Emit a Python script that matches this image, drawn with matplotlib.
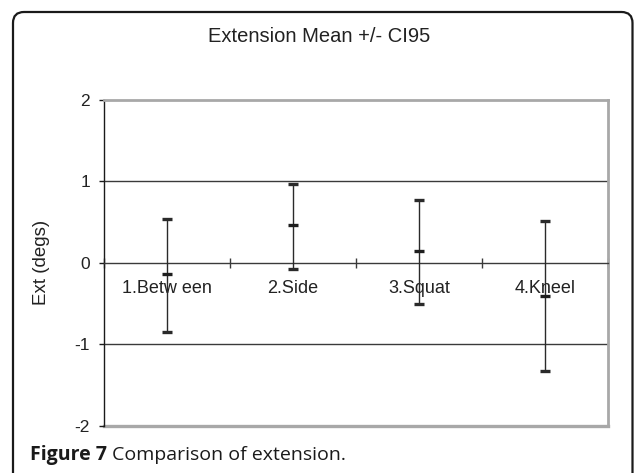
import matplotlib
matplotlib.use('Agg')
import matplotlib.pyplot as plt
import numpy as np
from matplotlib.patches import FancyBboxPatch

# data
categories = ['1.Betw een', '2.Side', '3.Squat', '4.Kneel']
means = [-0.14, 0.46, 0.14, -0.41]
upper = [0.54, 0.97, 0.775, 0.52]
lower = [-0.845, -0.075, -0.50, -1.33]
y_ticks = [-2, -1, 0, 1, 2]

plt.rcParams['font.family'] = ['Liberation Sans', 'DejaVu Sans']
W, H = 634, 473
fig = plt.figure(figsize=(W / 100, H / 100), dpi=100)

# rounded outer frame, partly cut off like in the scanned figure
frame = FancyBboxPatch((0.13, -0.2), 6.195, 4.61 + 0.2,
                       boxstyle='round,pad=0,rounding_size=0.11',
                       transform=fig.dpi_scale_trans, fill=False,
                       edgecolor='#1a1a1a', linewidth=1.6)
fig.patches.append(frame)

ax = fig.add_axes([104 / W, 1 - 425.7 / H, (607.7 - 104) / W, (425.7 - 100) / H])
x = np.arange(len(categories))
means_a = np.array(means)
yerr = np.vstack([means_a - np.array(lower), np.array(upper) - means_a])

ax.set_xlim(-0.5, len(categories) - 0.5)
ax.set_ylim(-2, 2)

for yv in (-1, 1):
    ax.axhline(yv, color='#3a3a3a', lw=1.0, zorder=1)

ax.errorbar(x, means, yerr=yerr, fmt='none', ecolor='#2a2a2a', elinewidth=1.0,
            capsize=3.4, capthick=2.4, zorder=3)
ax.plot(x, means, linestyle='none', marker='_', markersize=6.8, mew=2.4,
        color='#1e1e1e', zorder=4)

# spines: left black, category axis at zero, grey plot-area border
ax.spines['left'].set_color('#1a1a1a')
ax.spines['left'].set_linewidth(1.0)
ax.spines['bottom'].set_position(('data', 0))
ax.spines['bottom'].set_color('#3a3a3a')
ax.spines['bottom'].set_linewidth(1.0)
for s in ('top', 'right'):
    ax.spines[s].set_color('#a8a8a8')
    ax.spines[s].set_linewidth(2.0)
ax.axhline(-2, color='#a8a8a8', lw=2.4, clip_on=False, zorder=0)

ax.set_yticks(y_ticks)
ax.set_yticklabels([str(v) for v in y_ticks])
ax.tick_params(axis='y', direction='out', length=3.6, width=1.0, color='#1a1a1a',
               pad=6.5, labelsize=12.5, labelcolor='#222222')

ax.set_xticks(x)
ax.set_xticklabels(categories)
ax.set_xticks(np.arange(len(categories) + 1) - 0.5, minor=True)
ax.tick_params(axis='x', which='major', length=0, pad=12, labelsize=13,
               labelcolor='#222222')
ax.tick_params(axis='x', which='minor', direction='inout', length=7, width=1.0,
               color='#3a3a3a')

ax.set_ylabel('Ext (degs)', fontsize=13.5, color='#222222')
ax.yaxis.set_label_coords(-0.107, 0.5)

fig.text(319 / W, 1 - 36 / H, 'Extension Mean +/- CI95', ha='center', va='center',
         fontsize=14.5, color='#222222')

# caption: bold label followed by regular text
cap_y = 1 - 455 / H
t1 = fig.text(30 / W, cap_y, 'Figure 7', ha='left', va='center', fontsize=14,
              fontweight='bold', family=['Open Sans', 'DejaVu Sans'], color='#1a1a1a')
fig.canvas.draw()
bb = t1.get_window_extent()
fig.text((bb.x1 + 5) / W, cap_y, 'Comparison of extension.', ha='left', va='center',
         fontsize=14, family=['Open Sans', 'DejaVu Sans'], color='#1a1a1a')

fig.savefig('out.png', dpi=100)
